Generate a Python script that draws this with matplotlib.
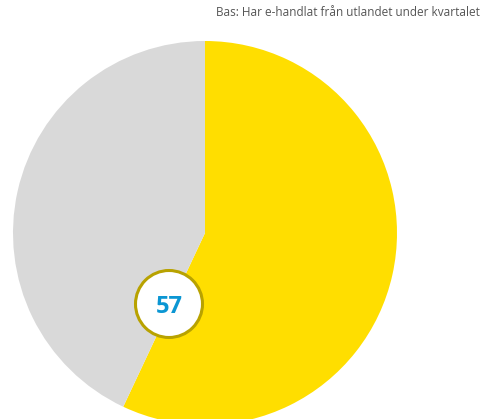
import matplotlib
matplotlib.use("Agg")
import matplotlib.pyplot as plt
from matplotlib.patches import Circle

# Share of respondents (percent)
labels = ["Ja", "Nej"]
values = [57, 43]
colors = ["#FFDE00", "#D9D9D9"]
base_note = "Bas: Har e-handlat från utlandet under kvartalet"

W, H = 485, 419
fig = plt.figure(figsize=(W / 100, H / 100), dpi=100)
ax = fig.add_axes([0, 0, 1, 1])

cx, cy, r = 205, H - 233, 192
ax.pie(values, colors=colors, startangle=90, counterclock=False,
       center=(cx, cy), radius=r, frame=True,
       wedgeprops=dict(linewidth=0))
ax.set_xlim(0, W)
ax.set_ylim(0, H)
ax.set_aspect("equal")
ax.axis("off")

# Value badge
bx, by = 169, H - 304
ax.add_patch(Circle((bx, by), 33.5, facecolor="white", edgecolor="#B8A200",
                    linewidth=2.2, zorder=5))
ax.text(bx, by, str(values[0]), ha="center", va="center_baseline",
        fontsize=17, fontweight="bold", color="#0B96D3",
        family="Open Sans", zorder=6)

ax.text(480, H - 12, base_note, ha="right", va="center", fontsize=8.5,
        color="#555555", family="Open Sans")

fig.savefig("out.png", dpi=100)
